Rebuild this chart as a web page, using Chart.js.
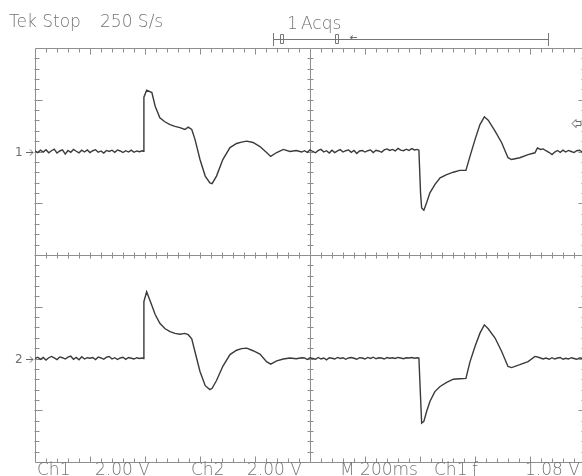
<!DOCTYPE html>
<html><head><meta charset="utf-8">
<script src="https://cdn.jsdelivr.net/npm/chart.js@4/dist/chart.umd.min.js"></script>
<style>
html,body{margin:0;padding:0;background:#fff;overflow:hidden;width:582px;height:476px;}
#wrap{position:relative;width:582px;height:476px;overflow:hidden;background:#fff;}
canvas{position:absolute;left:0;top:0;}
.t{position:absolute;font-family:"DejaVu Sans",sans-serif;font-size:17px;line-height:17px;color:#747474;white-space:pre;font-weight:300;}
.m{position:absolute;font-family:"DejaVu Sans",sans-serif;font-size:12px;line-height:12px;color:#707070;}
</style></head>
<body><div id="wrap"><canvas id="c" width="586" height="476"></canvas>
<span class="t" style="left:9px;top:13px">Tek Stop</span>
<span class="t" style="left:100px;top:13px">250 S/s</span>
<span class="t" style="left:287px;top:15px">1</span>
<span class="t" style="left:301px;top:15px">Acqs</span>
<span class="t" style="left:37px;top:461px">Ch1</span>
<span class="t" style="left:95px;top:461px">2.00 V</span>
<span class="t" style="left:191px;top:461px">Ch2</span>
<span class="t" style="left:247px;top:461px">2.00 V</span>
<span class="t" style="left:340px;top:461px">M 200ms</span>
<span class="t" style="left:434px;top:461px">Ch1</span>
<span class="t" style="left:472px;top:461px">ƒ</span>
<span class="t" style="left:525px;top:461px">1.08 V</span>
<span class="m" id="g1">1</span>
<span class="m" id="g2">2</span>
</div>
<script>
// ---- data (time in ms, volts relative to each channel's ground) ----
const timeMs = [
0,10,20,30,40,50,60,70,80,90,100,110,120,130,140,150,160,170,180,190,200,210,220,230,240,250,260,270,280,290,300,310,320,330,340,350,360,370,380,390,394,
396,406,425,437,454,472,491,509,527,545,557,570,582,600,619,636,644,660,683,709,733,751,770,793,818,842,857,879,903,927,950,970,
980,990,1000,1010,1020,1030,1040,1050,1060,1070,1080,1090,1100,1110,1120,1130,1140,1150,1160,1170,1180,1190,1200,1210,1220,1230,1240,1250,1260,1270,1280,1290,1300,1310,1320,1330,1340,1350,1360,1370,1380,1390,1396,
1402,1406,1414,1424,1436,1454,1473,1497,1521,1545,1567,1582,1600,1618,1634,1648,1673,1697,1720,1733,1763,1793,1818,1827,1838,1848,1858,1870,1880,1890,1900,1910,1920,1930,1940,1950,1960,1970,1980,1990,2000];

const ch1Volts = [
0.02,-0.04,0.05,-0.02,0.07,-0.05,0.03,0.09,-0.06,0.02,0.06,-0.10,0.04,-0.03,0.08,0.01,-0.05,0.05,-0.02,0.06,
-0.04,0.03,0.07,-0.03,0.02,-0.06,0.04,0.00,0.05,-0.03,0.06,0.02,-0.04,0.03,-0.02,0.05,-0.03,0.02,-0.01,0.03,0.01,
2.10,2.37,2.28,1.75,1.30,1.15,1.04,0.97,0.92,0.85,0.94,0.85,0.46,-0.31,-0.95,-1.21,-1.24,-0.95,-0.31,0.15,
0.31,0.36,0.40,0.35,0.19,-0.04,-0.19,-0.04,0.08,0.00,0.04,-0.02,
0.03,-0.03,0.06,0.00,-0.05,0.04,0.08,-0.02,0.03,-0.06,0.05,-0.04,0.02,0.07,-0.02,0.03,0.06,-0.03,0.04,-0.08,
0.02,0.04,-0.02,0.03,0.06,-0.04,0.05,0.02,-0.03,0.06,0.10,0.04,0.08,0.02,0.12,0.05,0.03,0.09,0.04,0.11,0.06,0.08,0.05,
-1.60,-2.18,-2.27,-1.98,-1.60,-1.28,-1.02,-0.89,-0.80,-0.73,-0.73,
-0.18,0.46,1.04,1.34,1.21,0.79,0.34,-0.24,-0.31,-0.24,-0.12,
-0.05,0.14,0.08,0.10,0.03,-0.04,-0.12,-0.02,0.04,-0.03,
0.05,-0.02,0.04,0.00,-0.04,0.03,0.05,-0.02,0.02];

const ch2Volts = [
0.00,0.05,-0.03,0.04,-0.06,0.03,0.08,0.02,-0.04,0.06,0.03,-0.02,0.05,0.09,-0.03,0.04,-0.05,0.07,-0.02,0.03,
0.01,0.04,-0.04,0.06,0.02,-0.03,0.05,0.08,-0.02,0.03,-0.04,0.02,0.05,-0.03,0.04,0.01,-0.02,0.03,0.00,0.02,0.00,
2.20,2.58,2.05,1.70,1.36,1.16,1.04,0.97,0.94,0.97,0.92,0.76,0.25,-0.50,-1.05,-1.20,-1.15,-0.85,-0.30,0.15,
0.32,0.38,0.40,0.30,0.17,-0.12,-0.22,-0.09,-0.02,0.02,-0.01,0.03,
0.02,-0.04,0.03,0.00,-0.03,0.04,-0.02,0.02,-0.05,0.03,0.01,-0.02,0.04,0.00,0.03,-0.03,0.02,0.04,0.01,-0.03,
0.03,0.02,-0.02,0.04,0.00,0.05,-0.01,0.03,0.02,-0.02,0.04,0.01,0.03,0.00,0.04,0.02,-0.01,0.03,0.02,0.04,0.01,0.03,0.02,
-1.50,-2.50,-2.43,-2.05,-1.66,-1.28,-1.08,-0.92,-0.80,-0.78,-0.77,
-0.12,0.46,0.98,1.30,1.15,0.79,0.27,-0.31,-0.35,-0.24,-0.12,
0.08,0.06,0.02,-0.02,0.02,-0.03,0.03,-0.02,0.02,0.04,
-0.03,0.01,-0.02,0.03,0.00,-0.03,0.02,0.01,0.00];

const voltsPerDiv = [2.00, 2.00];   // Ch1, Ch2
const groundDiv = [2, -2];          // channel ground marker positions (divisions from centre)
const timePerDivMs = 200;
const triggerLevelV = 1.08;         // on Ch1

// ---- build datasets ----
function trace(volts, ch) {
  return timeMs.map((t, i) => ({x: t, y: volts[i] / voltsPerDiv[ch] + groundDiv[ch]}));
}

const GRAT = '#8e8e8e';
const graticule = {
  id: 'graticule',
  beforeDatasetsDraw(chart) {
    const {ctx, scales: {x, y}} = chart;
    const px = v => Math.round(x.getPixelForValue(v)) + 0.5;
    const py = v => Math.round(y.getPixelForValue(v)) + 0.5;
    const x0 = px(0), x1 = px(10 * timePerDivMs), xc = px(5 * timePerDivMs);
    const yT = py(4), yB = py(-4), yc = py(0);
    ctx.save();
    ctx.strokeStyle = GRAT; ctx.lineWidth = 1;
    ctx.beginPath();
    ctx.rect(x0, yT, x1 - x0, yB - yT);
    ctx.moveTo(xc, yT); ctx.lineTo(xc, yB);
    ctx.moveTo(x0, yc); ctx.lineTo(x1, yc);
    for (let i = 1; i < 50; i++) {
      const X = px(i * timePerDivMs / 5);
      const major = i % 5 === 0;
      const L = major ? 6 : 4;
      ctx.moveTo(X, yT); ctx.lineTo(X, yT + L);
      ctx.moveTo(X, yB); ctx.lineTo(X, yB - L);
      ctx.moveTo(X, yc - 3); ctx.lineTo(X, yc + 3);
    }
    for (let i = 1; i < 40; i++) {
      const Y = py(-4 + i * 0.2);
      const major = i % 5 === 0;
      const L = major ? 7 : 4;
      ctx.moveTo(x0 - 1, Y); ctx.lineTo(x0 + L, Y);
      ctx.moveTo(x1, Y); ctx.lineTo(x1 - L, Y);
      ctx.moveTo(xc - 3, Y); ctx.lineTo(xc + 3, Y);
    }
    ctx.stroke();
    ctx.restore();
  },
  afterDraw(chart) {
    const {ctx, scales: {y}} = chart;
    ctx.save();
    ctx.strokeStyle = '#777'; ctx.lineWidth = 1;
    // record / trigger position bar
    ctx.beginPath();
    ctx.moveTo(273, 39.5); ctx.lineTo(549, 39.5);
    ctx.moveTo(273.5, 33); ctx.lineTo(273.5, 46);
    ctx.moveTo(548.5, 33); ctx.lineTo(548.5, 46);
    ctx.rect(280.5, 34.5, 3, 9);
    ctx.rect(335.5, 34.5, 3, 9);
    ctx.moveTo(350, 37.5); ctx.lineTo(357, 37.5);
    ctx.moveTo(350, 37.5); ctx.lineTo(353, 35.5);
    ctx.moveTo(350, 37.5); ctx.lineTo(353, 39.5);
    ctx.stroke();
    // channel ground arrows
    ctx.strokeStyle = '#666';
    groundDiv.forEach(g => {
      const Y = Math.round(y.getPixelForValue(g)) + 0.5;
      ctx.beginPath();
      ctx.moveTo(26, Y); ctx.lineTo(33, Y);
      ctx.moveTo(30, Y - 3); ctx.lineTo(33, Y); ctx.lineTo(30, Y + 3);
      ctx.stroke();
    });
    // trigger level marker (hollow left arrow)
    const Yt = y.getPixelForValue(triggerLevelV / voltsPerDiv[0] + groundDiv[0]);
    ctx.beginPath();
    ctx.moveTo(572, Yt); ctx.lineTo(576, Yt - 4); ctx.lineTo(576, Yt - 2); ctx.lineTo(581, Yt - 2);
    ctx.lineTo(581, Yt + 2); ctx.lineTo(576, Yt + 2); ctx.lineTo(576, Yt + 4); ctx.closePath();
    ctx.stroke();
    ctx.restore();
  }
};

const chart = new Chart(document.getElementById('c'), {
  type: 'line',
  data: {
    datasets: [
      {label: 'Ch1', data: trace(ch1Volts, 0), borderColor: '#3a3a3a', borderWidth: 1.4, pointRadius: 0, tension: 0},
      {label: 'Ch2', data: trace(ch2Volts, 1), borderColor: '#3a3a3a', borderWidth: 1.4, pointRadius: 0, tension: 0}
    ]
  },
  options: {
    responsive: false,
    animation: false,
    devicePixelRatio: 1,
    layout: {padding: {left: 35, right: 1, top: 48, bottom: 14}},
    scales: {
      x: {type: 'linear', min: 0, max: 10 * timePerDivMs, display: false},
      y: {type: 'linear', min: -4, max: 4, display: false}
    },
    plugins: {legend: {display: false}, tooltip: {enabled: false}, title: {display: false}}
  },
  plugins: [graticule]
});

// place channel numerals next to their ground arrows
['g1', 'g2'].forEach((id, i) => {
  const Y = chart.scales.y.getPixelForValue(groundDiv[i]);
  const el = document.getElementById(id);
  el.style.left = '15px';
  el.style.top = (Y - 6) + 'px';
});
</script>
</body></html>
